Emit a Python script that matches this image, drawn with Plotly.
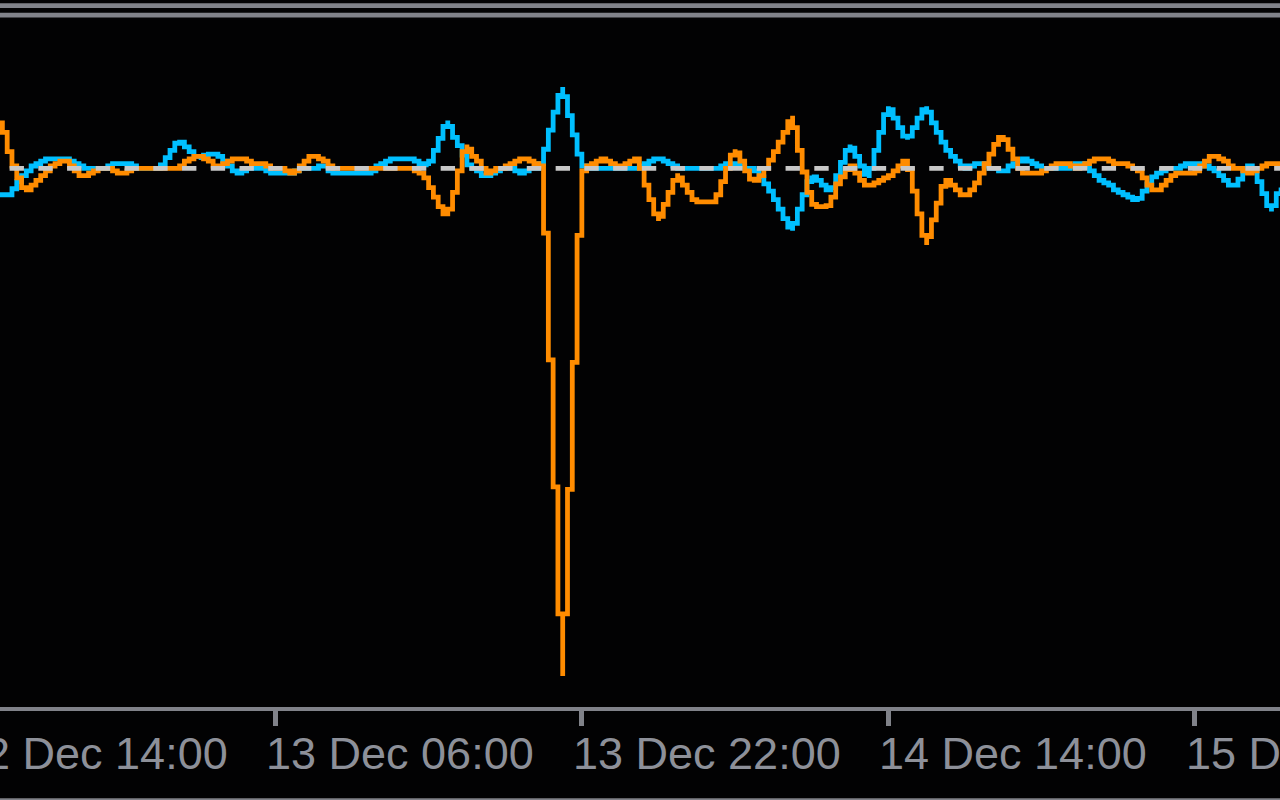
import pandas as pd
import plotly.graph_objects as go

# ---------------- data ----------------
bar_start = pd.Timestamp("2023-12-12 15:45")
bar_step = pd.Timedelta(minutes=15)

orange_line = [
    10, 5, 2, -1, -3, -5, -4, -3, -2, -1,
    0, 1, 1, 2, 1, 0, -1, -2, -1, -1,
    0, 0, 0, 0, -1, -1, -1, 0, 0, 0,
    0, 0, 0, 0, 0, 0, 0, 0, 1, 2,
    2, 3, 2, 2, 1, 0, 1, 1, 2, 2,
    2, 2, 1, 1, 1, 1, 0, 0, 0, 0,
    -1, -1, 0, 1, 2, 3, 2, 2, 1, 0,
    0, 0, 0, 0, 0, 0, 0, 0, 0, 0,
    0, 0, 0, 0, 0, 0, 0, -1, -1, -3,
    -5, -7, -9, -10, -7, -3, 2, 5, 3, 2,
    1, -1, -1, 0, 0, 0, 1, 1, 2, 2,
    2, 1, 1, 0, -27, -53, -80, -106, -80, -54,
    -27, -1, 0, 1, 1, 2, 2, 1, 1, 0,
    1, 1, 2, 2, -2, -5, -8, -11, -9, -6,
    -4, -1, -3, -4, -6, -7, -7, -7, -7, -7,
    -4, -1.5, 1.5, 4, 2.5, 0.5, -1.5, -3, -2, -1,
    1, 2.5, 4.5, 6.5, 8.5, 11, 6, 1.5, -3, -7,
    -8, -8, -8, -7.5, -4.5, -2, -1.5, 1, 0, -2,
    -3, -4, -3, -3, -2, -2, -1, 0, 1, 2,
    -2.5, -7, -12, -16, -12.5, -9, -5.5, -2, -3, -4,
    -5, -6, -5, -4, -2, 0, 2, 4, 6, 7,
    5, 3, 1, -1, -1, -1, -1, -1, 0, 0,
    1, 1, 1, 1, 0, 0, 1, 1, 2, 2,
    2, 2, 1, 1, 1, 1, 0, 0, -1, -3,
    -4, -5, -4, -3, -2, -1, -1, -1, -1, -1,
    0, 1, 2, 3, 2, 2, 1, 0, 0, 0,
    -1, -1, 0, 0, 1, 1, 1, 1,
]

blue_line = [
    -5, -6, -5, -3.5, -2, -1, 0, 1, 1, 2,
    2, 2, 2, 2, 2, 1, 1, 0, 0, 0,
    0, 0, 0, 1, 1, 1, 1, 1, 0, 0,
    0, 0, 0, 0, 1.5, 3, 4.5, 6, 5, 4,
    3, 2, 2.5, 3, 3, 3, 2, 1, 0, -1,
    -1, 0, 0, 0, 0, 0, -1, -1, -1, -1,
    -1, -1, 0, 0, 0, 0, 0, 1, 0, -1,
    -1, -1, -1, -1, -1, -1, -1, -1, 0, 1,
    1, 2, 2, 2, 2, 2, 2, 1, 1, 0.5,
    2.5, 5, 7.5, 10, 7.5, 5.5, 4, 1.5, 0, 0,
    -1, -2, -1, -1, 0, 0, 0, 0, -1, -1,
    0, 0, 0, 2, 6, 10, 13.5, 17, 13, 9,
    5, 1, 0, 0, 0, 0, 0, 0, 0, 0,
    0, 0, 0, 0, 1, 1, 2, 2, 2, 1,
    1, 0, 0, 0, 0, 0, 0, 0, 0, 0,
    0, 1, 1, 1, 1, 0, 0, 0, -1, -2.5,
    -4, -5.5, -7.5, -9.5, -11.5, -13, -10, -7, -4, -1.5,
    -2, -3, -4, -5, -3, 0, 2.5, 5, 3.5, 1.5,
    -0.5, -2, 2, 5.5, 9.5, 13, 11.5, 9.5, 7.5, 6,
    7.5, 9.5, 11.5, 13, 10.5, 8.5, 6.5, 4.5, 3, 2,
    1, 0, 0, 1, 1, 1, 0, 0, 0, -1,
    0, 1, 1, 2, 2, 1, 1, 0, 0, 0,
    0, 0, 0, 0, 1, 1, 1, 0, -1, -2,
    -3, -3, -4, -5, -5, -6, -6, -7, -5.5, -4,
    -2.5, -1, -1, 0, 0, 0, 0, 1, 1, 1,
    1, 1, 0, 0, -1, -2, -3, -4, -3, -1.5,
    0, 1, -1.5, -4, -6.5, -9, -6.5, -4,
]

level_value = 0

tick_times = pd.to_datetime([
    "2023-12-12 14:00", "2023-12-13 06:00", "2023-12-13 22:00",
    "2023-12-14 14:00", "2023-12-15 06:00",
])
tick_text = ["12 Dec 14:00", "13 Dec 06:00", "13 Dec 22:00",
             "14 Dec 14:00", "15 Dec 06:00"]

times = [bar_start + i * bar_step for i in range(len(orange_line))]

# ---------------- layout constants ----------------
W, H = 1280, 800
PX = 4.789            # screen pixels per bar and per value unit
MB = 93               # bottom margin
plot_h = H - MB
zero_y = 168.4        # screen y of the zero level
y_top = zero_y / PX
y_bot = (zero_y - plot_h) / PX

x_lo = bar_start - 0.5 * bar_step
x_hi = bar_start + (W / PX - 0.5) * bar_step

AX = "#808289"
TXT = "#8d9099"
BG = "#020203"

fig = go.Figure()
fig.add_trace(go.Scatter(
    x=times, y=blue_line, mode="lines",
    line=dict(color="#00BFFF", width=PX, shape="vhv"), hoverinfo="skip"))
fig.add_trace(go.Scatter(
    x=times, y=orange_line, mode="lines",
    line=dict(color="#FF8C00", width=PX, shape="vhv"), hoverinfo="skip"))
dash_len = f"{3 * PX:.2f}px"
fig.add_trace(go.Scatter(
    x=[bar_start + 1.5 * bar_step, x_hi], y=[level_value, level_value],
    mode="lines", line=dict(color="#C8C8C8", width=PX, dash=f"{dash_len},{dash_len}"),
    hoverinfo="skip"))

# separator rows at top and border at the bottom
def py(ypx):
    return 1 - ypx / plot_h

shapes = []
for r in (-34, -32):
    y0 = 166 + r * PX
    shapes.append(dict(type="rect", xref="paper", yref="paper", x0=0, x1=1,
                       y0=py(y0), y1=py(y0 + PX), fillcolor=AX, line=dict(width=0),
                       layer="above"))
shapes.append(dict(type="rect", xref="paper", yref="paper", x0=0, x1=1,
                   y0=py(166 + 132 * PX), y1=py(806), fillcolor=AX, line=dict(width=0)))

annotations = []
for t, s in zip(tick_times, tick_text):
    if x_lo <= t <= x_hi:
        xr, xv = "x", t
    else:
        xr, xv = "paper", (t - x_lo) / (x_hi - x_lo)
    annotations.append(dict(
        x=xv, xref=xr, y=0, yref="paper", xanchor="left", yanchor="top",
        xshift=-11, yshift=-19, text=s, showarrow=False,
        font=dict(family="Liberation Sans, Arial, sans-serif", size=45, color=TXT)))

fig.update_layout(
    width=W, height=H,
    margin=dict(l=0, r=0, t=0, b=MB, pad=0),
    paper_bgcolor=BG, plot_bgcolor=BG,
    showlegend=False,
    shapes=shapes,
    annotations=annotations,
    xaxis=dict(
        type="date", range=[x_lo, x_hi], showgrid=False, zeroline=False,
        showline=True, linecolor=AX, linewidth=4.4,
        ticks="outside", ticklen=15, tickwidth=PX, tickcolor=AX,
        tickvals=list(tick_times), showticklabels=False, fixedrange=True),
    yaxis=dict(range=[y_bot, y_top], visible=False, fixedrange=True),
)

fig.write_html("out.html", config={"displayModeBar": False},
               post_script="document.body.style.margin='0';document.body.style.overflow='hidden';")
